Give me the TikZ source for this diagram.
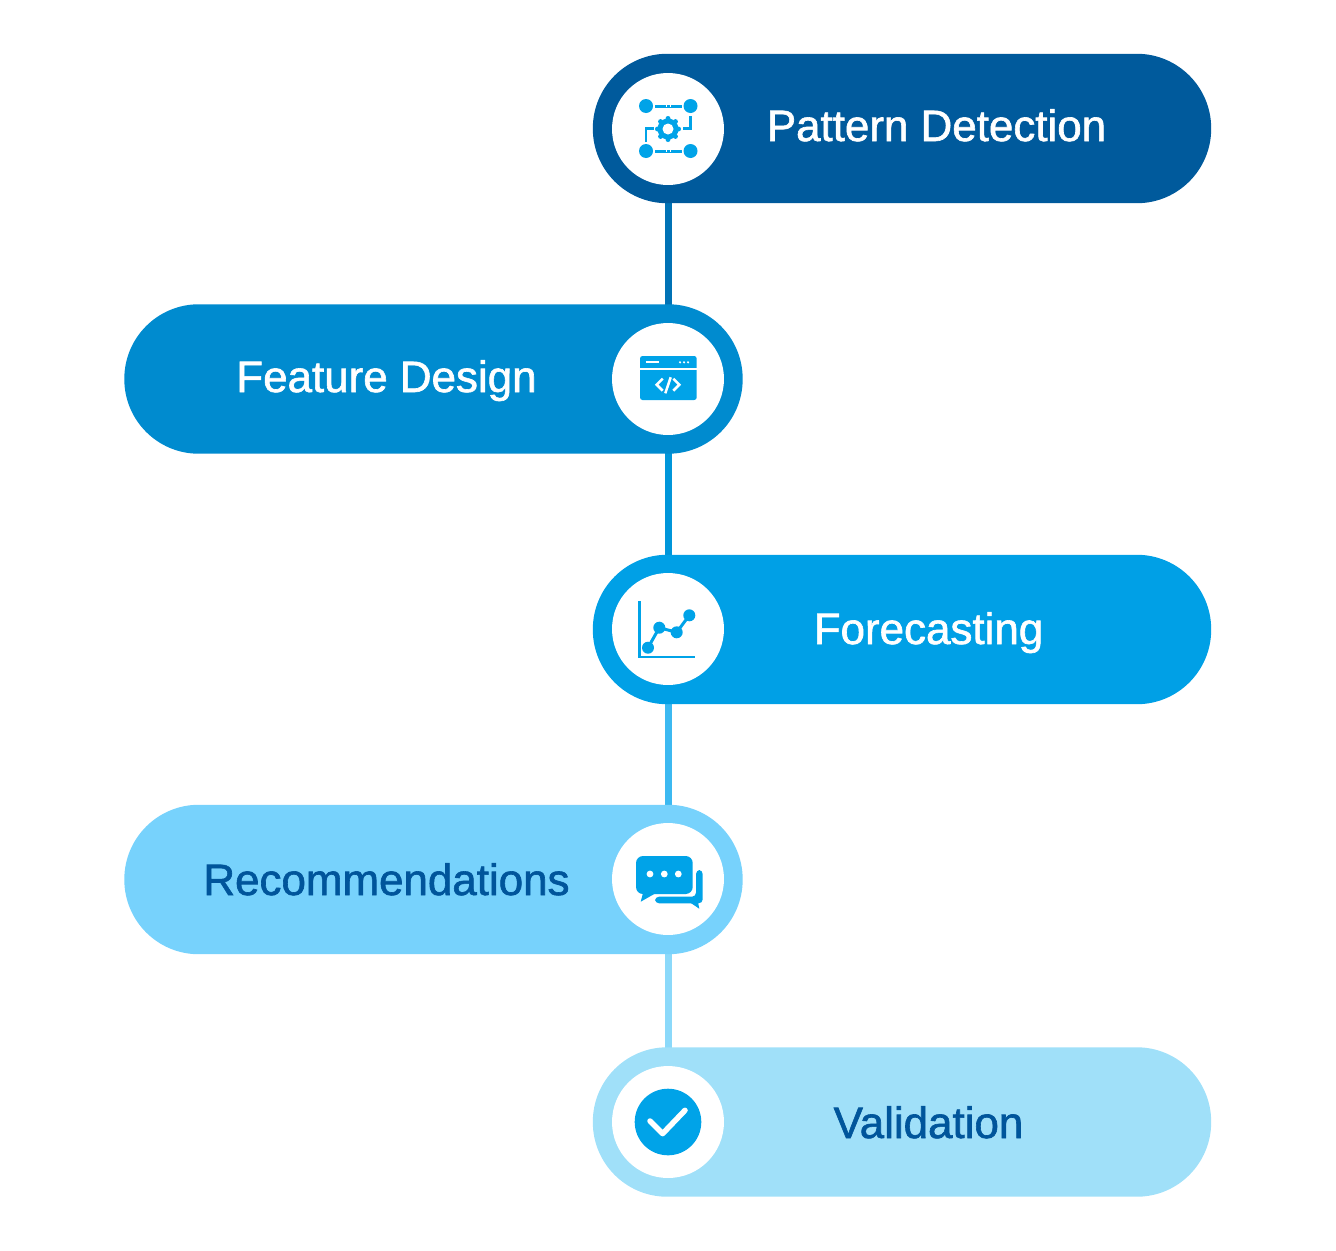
\documentclass[tikz,border=0pt]{standalone}
\usepackage{fontspec}
\setmainfont{Liberation Sans}[FakeBold=1.4]
\usetikzlibrary{backgrounds}
\definecolor{navy}{HTML}{005A9C}
\definecolor{midblue}{HTML}{008BCF}
\definecolor{skyblue}{HTML}{00A0E6}
\definecolor{lightblue}{HTML}{77D2FC}
\definecolor{paleblue}{HTML}{A0E0F9}
\definecolor{iconblue}{HTML}{00A3E8}
\definecolor{darktext}{HTML}{00559B}
\tikzset{
  pill/.style={inner sep=0, minimum width=12.37cm, minimum height=2.99cm, rounded corners=1.49cm},
  disc/.style={shape=circle, inner sep=0, minimum size=2.24cm, fill=white},
  title/.style={inner sep=0, anchor=base, font=\fontsize{25}{25}\selectfont},
  link/.style={line width=1.4mm},
  glyph/.style={draw=iconblue, line width=.6mm}
}
\begin{document}
\begin{tikzpicture}[x=0.02cm,y=-0.02cm]
\useasboundingbox (0,0) rectangle (1336,1251);
\node[pill, fill=navy] (pattern) at (902,128.5) {};
\node[pill, fill=midblue] (feature) at (433.5,379) {};
\node[pill, fill=skyblue] (forecast) at (902,629.5) {};
\node[pill, fill=lightblue] (recommend) at (433.5,879.5) {};
\node[pill, fill=paleblue] (validate) at (902,1122) {};
\node[disc] (icon1) at (668,129) {};
\node[disc] (icon2) at (668,379) {};
\node[disc] (icon3) at (668,629) {};
\node[disc] (icon4) at (668,879) {};
\node[disc] (icon5) at (668,1122) {};
\node[title, text=white] (txt1) at (936.5,141) {Pattern Detection};
\node[title, text=white] (txt2) at (386.5,392) {Feature Design};
\node[title, text=white] (txt3) at (928.5,644) {Forecasting};
\node[title, text=darktext] (txt4) at (386.5,895) {Recommendations};
\node[title, text=darktext] (txt5) at (928.5,1138) {Validation};
\begin{scope}[on background layer]
\draw[link, draw=navy!50!midblue] (icon1) -- (icon2);
\draw[link, draw=midblue!50!skyblue] (icon2) -- (icon3);
\draw[link, draw=skyblue!50!lightblue] (icon3) -- (icon4);
\draw[link, draw=lightblue!50!paleblue] (icon4) -- (icon5);
\end{scope}
\begin{scope}[shift={(icon1)}]
\fill[iconblue] (-22,-23) circle[radius=7] (22.5,-23) circle[radius=7] (-22,22) circle[radius=7] (22.5,22) circle[radius=7];
\draw[glyph] (-13,-23) -- (14,-23);
\draw[glyph] (-13,22) -- (14,22);
\draw[white, line width=.3mm] (-2,-23) -- (-1,-23) (2,-23) -- (3,-23) (-2,22) -- (-1,22) (2,22) -- (3,22);
\draw[glyph, line width=.45mm] (22.5,-13) -- (22.5,-0.5) -- (15,-0.5);
\draw[glyph, line width=.45mm] (-22,13) -- (-22,-0.5) -- (-14,-0.5);
\foreach \a in {0,45,...,315} \fill[iconblue] (\a:10.5) circle[radius=2.5];
\fill[iconblue] (0,0) circle[radius=10.5];
\fill[white] (0,0) circle[radius=5.5];
\end{scope}
\begin{scope}[shift={(icon2)}]
\fill[iconblue, rounded corners=.05cm] (-28,-23) rectangle (28.7,21);
\draw[white, line width=.25mm] (-28,-10) -- (28.7,-10);
\draw[white, line width=.4mm] (-22.3,-16.7) -- (-8.7,-16.7);
\foreach \x in {12,16,20} \fill[white] (\x,-16.7) circle[radius=1.2];
\draw[white, line width=.5mm] (-5.3,-.3) -- (-11.3,5.7) -- (-5.3,11.7);
\draw[white, line width=.5mm] (5.3,-.3) -- (11.3,5.7) -- (5.3,11.7);
\draw[white, line width=.5mm] (2.7,-1.7) -- (-2.7,14.3);
\end{scope}
\begin{scope}[shift={(icon3)}]
\draw[glyph, line width=.5mm] (-28.7,-28) -- (-28.7,28) -- (27,28);
\draw[glyph] (-20,18.7) -- (-8.7,-1.3) -- (8.7,3.3) -- (21.3,-13.7);
\fill[iconblue] (-20,18.7) circle[radius=6] (-8.7,-1.3) circle[radius=6] (8.7,3.3) circle[radius=6] (21.3,-13.7) circle[radius=6];
\end{scope}
\begin{scope}[shift={(icon4)}]
\fill[iconblue, rounded corners=.08cm] (28,-9) -- (34.7,-9) -- (34.7,24.3) -- (21.3,24.3) -- (-13,24.3) -- (-13,17.7) -- (28,17.7) -- cycle;
\fill[iconblue] (21.3,23) -- (31.3,29.7) -- (30,23) -- cycle;
\fill[iconblue, rounded corners=.14cm] (-32,-23) rectangle (24.7,15);
\fill[iconblue] (-25,14) -- (-27.3,22.7) -- (-12,14) -- cycle;
\foreach \x in {-18,-3.7,10.3} \fill[white] (\x,-5) circle[radius=3.4];
\end{scope}
\begin{scope}[shift={(icon5)}]
\fill[iconblue] (0,0) circle[radius=33.3];
\draw[white, line width=1.1mm, line cap=round, line join=round] (-18,-1) -- (-5.3,11.6) -- (17,-11.7);
\end{scope}
\end{tikzpicture}
\end{document}
